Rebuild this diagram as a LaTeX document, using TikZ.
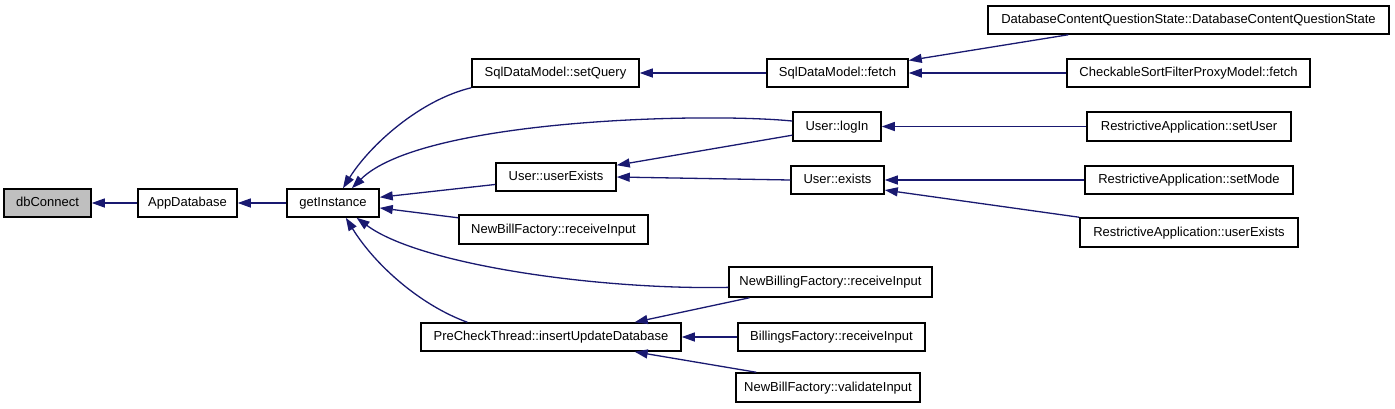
\documentclass[tikz,border=0pt]{standalone}
\usepackage{fontspec}
\setmainfont{Liberation Sans}
\usetikzlibrary{arrows.meta}
\definecolor{edgecol}{HTML}{191970}
\definecolor{rootfill}{HTML}{BFBFBF}
\begin{document}
\begin{tikzpicture}[x=1pt,y=-1pt,
  box/.style={draw=black,line width=1.5pt,minimum height=28pt,inner sep=0pt,
    font=\fontsize{13}{15}\selectfont,text height=9.5pt,text depth=2.5pt},
  call/.style={draw=edgecol,line width=1.3pt,{Triangle[length=13pt,width=9pt]}-}]
\useasboundingbox (0,0) rectangle (1395,408);
% nodes
\node[box,minimum width=87pt,fill=rootfill] (db) at (47.5,203) {dbConnect};
\node[box,minimum width=99pt] (app) at (187.5,203) {AppDatabase};
\node[box,minimum width=92pt] (gi) at (333,203) {getInstance};
\node[box,minimum width=167pt] (sq) at (555.5,73) {SqlDataModel::setQuery};
\node[box,minimum width=141pt] (sf) at (837.5,73) {SqlDataModel::fetch};
\node[box,minimum width=88pt,minimum height=29pt] (li) at (837,126.5) {User::logIn};
\node[box,minimum width=120pt] (ue) at (556,177) {User::userExists};
\node[box,minimum width=93pt] (ex) at (837.5,180) {User::exists};
\node[box,minimum width=189pt,minimum height=29pt] (nbr) at (553.5,229.5) {NewBillFactory::receiveInput};
\node[box,minimum width=203pt,minimum height=30pt] (nbgr) at (830.5,282) {NewBillingFactory::receiveInput};
\node[box,minimum width=260pt] (pc) at (551,337) {PreCheckThread::insertUpdateDatabase};
\node[box,minimum width=187pt] (bfr) at (831.5,337) {BillingsFactory::receiveInput};
\node[box,minimum width=184pt,minimum height=29pt] (nbv) at (828,387.5) {NewBillFactory::validateInput};
\node[box,minimum width=401pt] (dcqs) at (1188.5,20) {DatabaseContentQuestionState::DatabaseContentQuestionState};
\node[box,minimum width=243pt] (csf) at (1188.5,73) {CheckableSortFilterProxyModel::fetch};
\node[box,minimum width=204pt,minimum height=29pt] (rsu) at (1189,126.5) {RestrictiveApplication::setUser};
\node[box,minimum width=208pt] (rsm) at (1189,180) {RestrictiveApplication::setMode};
\node[box,minimum width=218pt,minimum height=29pt] (rue) at (1189,232.5) {RestrictiveApplication::userExists};
% edges
\draw[call] (db.east) -- (app.west);
\draw[call] (app.east) -- (gi.west);
\draw[call] (gi.56) .. controls (370,145) and (420,100) .. (sq.south west);
\draw[call] (gi.38) .. controls (420,120) and (700,112) .. (li.173);
\draw[call] (gi.7) -- (ue.187);
\draw[call] (gi.-6) -- (nbr.173);
\draw[call] (gi.-32) .. controls (420,265) and (600,290) .. (nbgr.183);
\draw[call] (gi.-49) .. controls (375,265) and (420,305) .. (pc.170);
\draw[call] (sq.east) -- (sf.west);
\draw[call] (ue.11) -- (li.191);
\draw[call] (ue.east) -- (ex.west);
\draw[call] (pc.10) -- (nbgr.191);
\draw[call] (pc.east) -- (bfr.west);
\draw[call] (pc.-10) -- (nbv.168);
\draw[call] (sf.10) -- (dcqs.187);
\draw[call] (sf.east) -- (csf.west);
\draw[call] (li.east) -- (rsu.west);
\draw[call] (ex.east) -- (rsm.west);
\draw[call] (ex.-12) -- (rue.north west);
\end{tikzpicture}
\end{document}
